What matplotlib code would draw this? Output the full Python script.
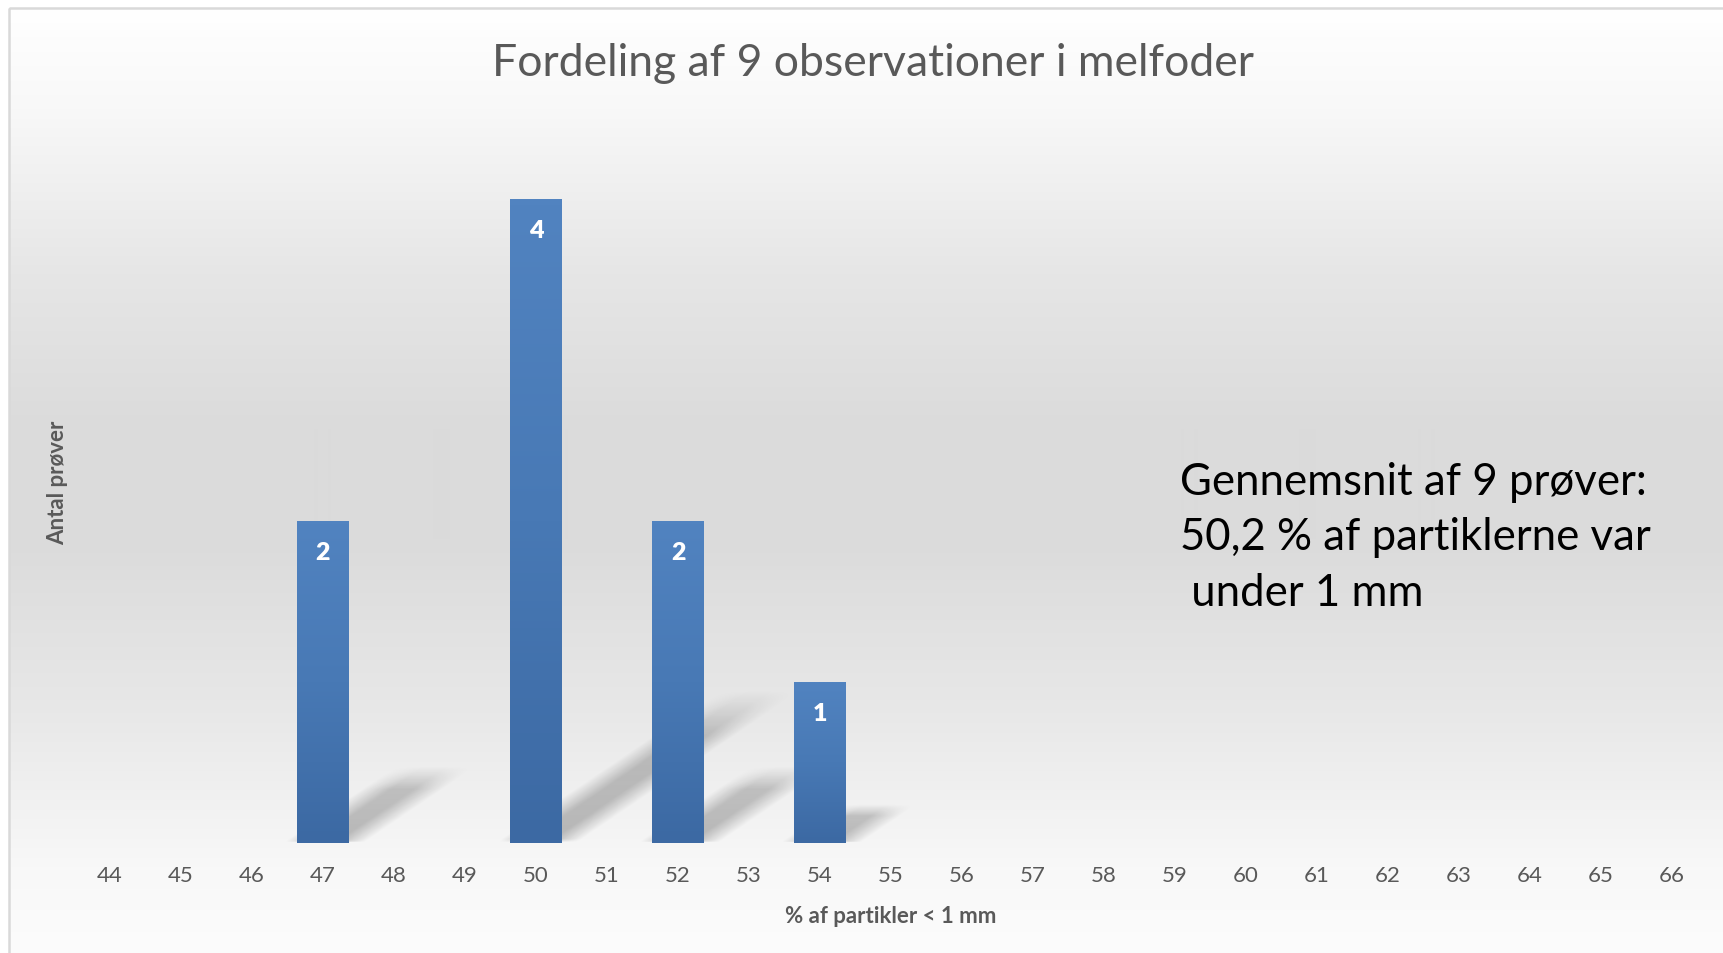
import numpy as np
import matplotlib
matplotlib.use("Agg")
import matplotlib.pyplot as plt
from matplotlib.colors import LinearSegmentedColormap
from matplotlib.patches import Rectangle

# data
categories = [str(v) for v in range(44, 67)]
counts = [0, 0, 0, 2, 0, 0, 4, 0, 2, 0, 1, 0, 0, 0, 0, 0, 0, 0, 0, 0, 0, 0, 0]
title = "Fordeling af 9 observationer i melfoder"
x_title = "% af partikler < 1 mm"
y_title = "Antal prøver"
note = "Gennemsnit af 9 prøver:\n50,2 % af partiklerne var\n under 1 mm"

W, H = 1723, 954
plt.rcParams['font.family'] = ['Lato', 'DejaVu Sans']
fig = plt.figure(figsize=(W / 100, H / 100), dpi=100)
fig.patch.set_facecolor("white")

# background gradient + frame, in pixel coordinates
bg = fig.add_axes([0, 0, 1, 1], zorder=0)
bg.set_xlim(0, W)
bg.set_ylim(H, 0)
bg.axis("off")
stops_y = np.array([9, 110, 275, 430, 540, 714, 868, 954])
stops_v = np.array([255, 248, 230, 219, 219, 232, 248, 252]) / 255
yy = np.arange(9, H)
vals = np.interp(yy, stops_y, stops_v)
grad = np.repeat(vals[:, None], 2, axis=1)
bg.imshow(np.dstack([grad, grad, grad]), extent=[10, W + 20, H, 9],
          aspect="auto", interpolation="bilinear")
bg.add_patch(Rectangle((9, 8.5), W + 40, H + 40, fill=False,
                       edgecolor="#d9d9d9", linewidth=1.8))

# main axes
ax = fig.add_axes([74.5 / W, (H - 844) / H, (1707.5 - 74.5) / W, 4.5 * 161 / H], zorder=1)
ax.patch.set_alpha(0)
x = np.arange(len(categories))
for s in ax.spines.values():
    s.set_visible(False)
ax.set_yticks([])
ax.set_xticks(x)
ax.set_xticklabels(categories, fontsize=16, color="#595959")
ax.tick_params(axis="x", length=0, pad=16)

bar_w = 0.73
bars = ax.bar(x, counts, width=bar_w, color="#4677b0", zorder=3)

# gradient fill for the bars
bar_cmap = LinearSegmentedColormap.from_list("bar", ["#3c69a3", "#4879b5", "#5183c0"])
for b, c in zip(bars, counts):
    if c == 0:
        continue
    x0, y0 = b.get_x(), b.get_y()
    im = ax.imshow(np.linspace(0, 1, 100)[:, None], cmap=bar_cmap, origin="lower",
                   extent=[x0, x0 + b.get_width(), y0, y0 + b.get_height()],
                   aspect="auto", zorder=4, interpolation="bilinear")
    im.set_clip_path(b)
    ax.text(x0 + b.get_width() / 2, c - 0.19, str(c), ha="center", va="center",
            color="white", fontsize=18, fontweight="heavy", zorder=5)

# soft perspective shadows behind the bars
px_x, px_y = 71.0, 161.0
sx, sy = 56.0 / px_x, 38.0 / px_y
gx = np.linspace(-0.5, len(categories) - 0.5, 1400)
gy = np.linspace(0, 4.5, 600)
GX, GY = np.meshgrid(gx, gy)
alpha = np.zeros_like(GX)
for xi, c in zip(x, counts):
    if c == 0:
        continue
    t = GY / (sy * c)
    shift = sx * c * t
    left = xi - bar_w / 2 + shift
    right = xi + bar_w / 2 + shift
    d = np.maximum(left - GX, GX - right) * px_x * 0.55
    edge = np.clip(0.5 - d / 16.0, 0, 1)
    along = np.clip((1 - t) / 0.3, 0, 1) * np.clip(t / 0.02, 0, 1)
    a = edge * along * (0.25 - 0.06 * np.clip(t, 0, 1))
    alpha = np.maximum(alpha, a)
shadow = np.zeros(GX.shape + (4,))
shadow[..., 3] = alpha
ax.imshow(shadow, extent=[gx[0], gx[-1], 0, 4.5], origin="lower",
          aspect="auto", zorder=2, interpolation="bilinear")
ax.set_xlim(-0.5, len(categories) - 0.5)
ax.set_ylim(0, 4.5)

ax.set_xlabel(x_title, fontsize=16, fontweight="bold", color="#595959", labelpad=14)

fig.text(58 / W, 1 - 483 / H, y_title, rotation=90, ha="center", va="center",
         fontsize=16, fontweight="bold", color="#595959")
fig.text(873 / W, 1 - 63 / H, title, ha="center", va="center",
         fontsize=32, color="#595959")
fig.text(1180 / W, 1 - 538 / H, note, ha="left", va="center",
         fontsize=31.5, color="black", linespacing=1.45)

fig.savefig("out.png", dpi=100)
